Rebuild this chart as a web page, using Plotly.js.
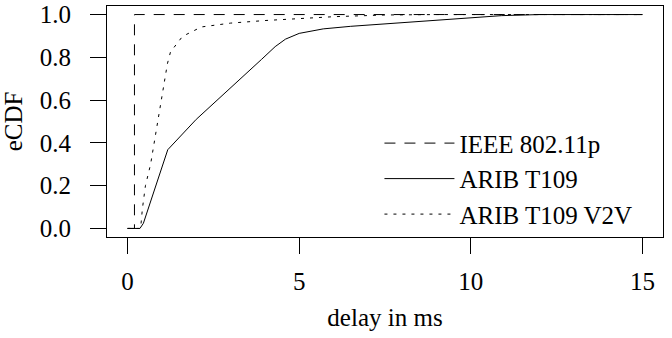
<!DOCTYPE html>
<html>
<head>
<meta charset="utf-8">
<script src="https://cdn.plot.ly/plotly-3.0.1.min.js"></script>
<style>html,body{margin:0;padding:0;background:#fff;}#chart{width:672px;height:338px;}</style>
</head>
<body>
<div id="chart"></div>
<script>
var seriesNames = ["IEEE 802.11p", "ARIB T109", "ARIB T109 V2V"];
var ieeeX = [0, 0.2, 0.2, 15];
var ieeeY = [0, 0, 1, 1];
var aribX = [0, 0.36, 0.46, 1.17, 2.0, 3.0, 3.9, 4.3, 4.6, 5.0, 5.7, 6.5, 7.4, 8.5, 9.3, 10.2, 10.9, 12, 15];
var aribY = [0, 0, 0.024, 0.368, 0.51, 0.655, 0.79, 0.85, 0.885, 0.912, 0.933, 0.945, 0.955, 0.965, 0.975, 0.985, 0.995, 1.0, 1.0];
var v2vX = [0, 0.38, 0.43, 0.52, 0.67, 0.87, 1.0, 1.16, 1.25, 1.6, 2.15, 3.0, 4.0, 5.0, 6.0, 7.5, 9, 15];
var v2vY = [0, 0, 0.09, 0.2, 0.3, 0.49, 0.61, 0.77, 0.825, 0.898, 0.942, 0.96, 0.972, 0.98, 0.99, 0.998, 1.0, 1.0];
var xTicks = [0, 5, 10, 15];
var yTicks = [0, 0.2, 0.4, 0.6, 0.8, 1.0];

var FONT = "Liberation Serif";
var f25 = {family: FONT, size: 25, color: "#000"};
var traces = [
  {x: ieeeX, y: ieeeY, name: seriesNames[0], mode: "lines", line: {color: "#000", width: 1, dash: "11px,9px"}},
  {x: aribX, y: aribY, name: seriesNames[1], mode: "lines", line: {color: "#000", width: 1}},
  {x: v2vX, y: v2vY, name: seriesNames[2], mode: "lines", line: {color: "#000", width: 1, dash: "3px,6px"}}
];
var layout = {
  width: 672, height: 338,
  margin: {l: 107, r: 9, t: 6, b: 101},
  paper_bgcolor: "#fff", plot_bgcolor: "#fff",
  font: f25,
  showlegend: true,
  legend: {x: 0.49, y: 0.505, xanchor: "left", yanchor: "top", bgcolor: "rgba(0,0,0,0)",
           font: {family: FONT, size: 25, color: "#000"}, itemwidth: 70, tracegroupgap: 0},
  xaxis: {range: [-0.6, 15.6], tickvals: xTicks, ticktext: xTicks.map(String),
          tickfont: {family: FONT, size: 25, color: "#000"},
          showline: true, mirror: true, linecolor: "#000", linewidth: 1,
          ticks: "outside", ticklen: 16, tickcolor: "#000", tickwidth: 1,
          showgrid: false, zeroline: false, ticklabelstandoff: 6,
          title: {text: "delay in ms", font: {family: FONT, size: 25, color: "#000"}, standoff: 14}},
  yaxis: {range: [-0.04, 1.04], tickvals: yTicks, tickformat: ".1f",
          tickfont: {family: FONT, size: 25, color: "#000"},
          showline: true, mirror: true, linecolor: "#000", linewidth: 1,
          ticks: "outside", ticklen: 16, tickcolor: "#000", tickwidth: 1,
          showgrid: false, zeroline: false, ticklabelstandoff: 14,
          title: {text: "eCDF", font: {family: FONT, size: 25, color: "#000"}, standoff: 14}}
};
Plotly.newPlot("chart", traces, layout, {staticPlot: true, displayModeBar: false});
</script>
</body>
</html>
